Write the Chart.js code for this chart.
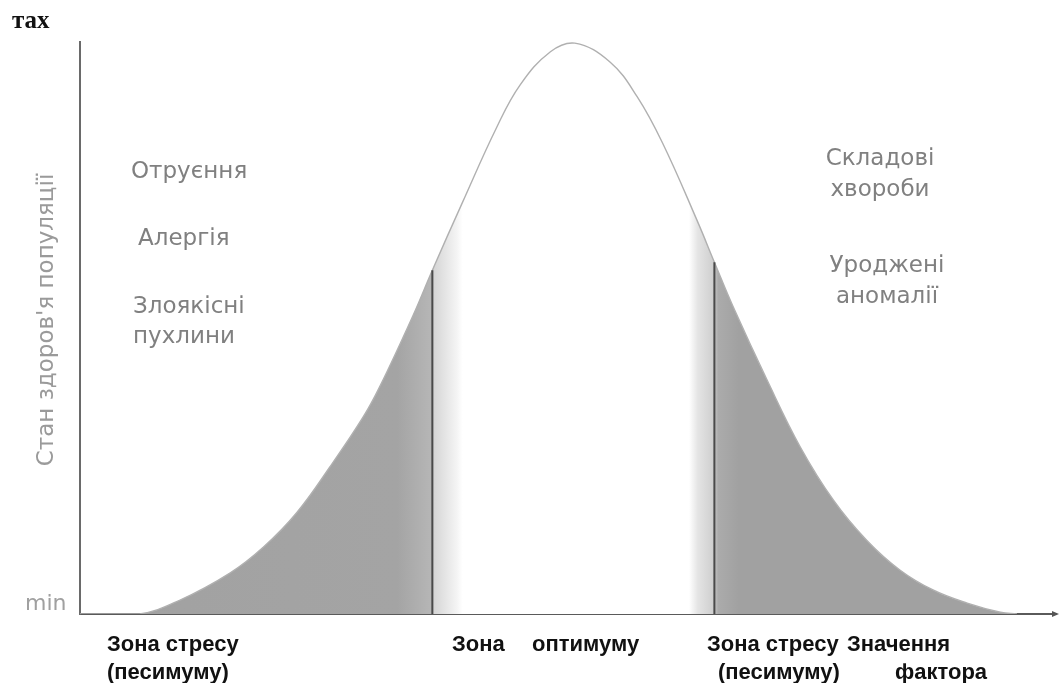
<!DOCTYPE html>
<html lang="uk">
<head>
<meta charset="UTF-8">
<title>Зони толерантності</title>
<script src="https://cdn.jsdelivr.net/npm/chart.js@4.4.0/dist/chart.umd.min.js"></script>
<style>
  html, body { margin: 0; padding: 0; background: #fff; }
</style>
</head>
<body>
<canvas id="curveChart" width="1061" height="683"></canvas>
<script>
// Значення фактора (0..100 along the axis) and стан здоров'я (0 = min, 100 = max)
var factorValues = [0, 6.1, 10.2, 15.4, 18.8, 22.2, 25.6, 29.0, 30.7, 34.1, 36.1, 39.2, 42.7, 45.1, 48.2,
                    50.7, 54.3, 57.1, 59.7, 63.2, 65.0, 66.9, 70.4, 73.8, 77.2, 80.6, 84.0, 87.4, 90.9, 94.3, 96.0];
var healthValues = [0, 0, 2.4, 7.2, 11.7, 17.7, 25.7, 34.4, 39.7, 52.1, 60.1, 72.0, 85.1, 92.5, 98.3,
                    99.8, 96.5, 90.4, 82.3, 68.9, 61.5, 53.8, 40.9, 29.2, 19.9, 12.9, 7.7, 4.2, 1.9, 0.3, 0];

// borders of the optimum zone and where they meet the curve
var zoneLimits = [36.1, 65.0];
var limitHeights = [60.1, 61.5];

var leftNotes = ['Отруєння', 'Алергія', 'Злоякісні', 'пухлини'];
var rightNotes = ['Складові', 'хвороби', 'Уроджені', 'аномалії'];
var yTitle = "Стан здоров'я популяції";
var yTickLabels = ['min', 'тах'];
var zoneLabels = ['Зона стресу', '(песимуму)', 'Зона', 'оптимуму', 'Зона стресу', '(песимуму)', 'Значення', 'фактора'];

var curvePoints = factorValues.map(function (x, i) { return { x: x, y: healthValues[i] }; });

function tailFill(context) {
    var chart = context.chart;
    if (!chart.chartArea) return 'rgba(0,0,0,0)';
    var xs = chart.scales.x;
    var x0 = chart.chartArea.left, x1 = chart.chartArea.right;
    var g = chart.ctx.createLinearGradient(x0, 0, x1, 0);
    function stop(v, c) { g.addColorStop((xs.getPixelForValue(v) - x0) / (x1 - x0), c); }
    stop(0, '#a1a1a1');
    stop(32.5, '#a4a4a4');
    stop(36.0, '#b6b6b6');
    stop(36.3, '#d6d6d6');
    stop(38.6, '#f4f4f4');
    stop(39.2, '#ffffff');
    stop(62.4, '#ffffff');
    stop(63.3, '#e4e4e4');
    stop(64.8, '#d0d0d0');
    stop(65.4, '#ababab');
    stop(67.5, '#a1a1a1');
    stop(100, '#a1a1a1');
    return g;
}

var textPlugin = {
    id: 'diagramText',
    afterDraw: function (chart) {
        var ctx = chart.ctx;
        var area = chart.chartArea;
        ctx.save();

        // arrow head on the factor axis
        ctx.fillStyle = '#555';
        ctx.beginPath();
        ctx.moveTo(area.right + 3, area.bottom);
        ctx.lineTo(area.right - 4, area.bottom - 3);
        ctx.lineTo(area.right - 4, area.bottom + 3);
        ctx.closePath();
        ctx.fill();

        // min / max
        ctx.textBaseline = 'alphabetic';
        ctx.textAlign = 'left';
        ctx.fillStyle = '#a0a0a0';
        ctx.font = '22px "DejaVu Sans"';
        ctx.fillText(yTickLabels[0], 25, 610);
        ctx.fillStyle = '#111';
        ctx.font = 'bold 25px "Liberation Serif"';
        ctx.fillText(yTickLabels[1], 12, 28);

        // vertical axis title
        ctx.save();
        ctx.translate(53, 320);
        ctx.rotate(-Math.PI / 2);
        ctx.textAlign = 'center';
        ctx.fillStyle = '#9a9a9a';
        ctx.font = '23px "DejaVu Sans"';
        ctx.fillText(yTitle, 0, 0);
        ctx.restore();

        // notes in the pessimum zones
        ctx.fillStyle = '#808080';
        ctx.font = '23px "DejaVu Sans"';
        ctx.textAlign = 'left';
        ctx.fillText(leftNotes[0], 131, 178);
        ctx.fillText(leftNotes[1], 138, 245);
        ctx.fillText(leftNotes[2], 133, 313);
        ctx.fillText(leftNotes[3], 133, 343);
        ctx.textAlign = 'center';
        ctx.fillText(rightNotes[0], 880, 165);
        ctx.fillText(rightNotes[1], 880, 196);
        ctx.fillText(rightNotes[2], 887, 272);
        ctx.fillText(rightNotes[3], 887, 303);

        // zone names under the axis
        ctx.fillStyle = '#111';
        ctx.font = 'bold 22px "Liberation Sans"';
        ctx.textAlign = 'left';
        ctx.fillText(zoneLabels[0], 107, 651);
        ctx.fillText(zoneLabels[1], 107, 679);
        ctx.fillText(zoneLabels[2], 452, 651);
        ctx.fillText(zoneLabels[3], 532, 651);
        ctx.fillText(zoneLabels[4], 707, 651);
        ctx.fillText(zoneLabels[5], 718, 679);
        ctx.fillText(zoneLabels[6], 847, 651);
        ctx.fillText(zoneLabels[7], 895, 679);

        ctx.restore();
    }
};

new Chart(document.getElementById('curveChart'), {
    type: 'scatter',
    data: {
        datasets: [
            {
                label: 'curve',
                data: curvePoints,
                order: 2,
                showLine: true,
                borderColor: '#b0b0b0',
                borderWidth: 1.4,
                backgroundColor: tailFill,
                fill: 'origin',
                pointRadius: 0,
                tension: 0.4
            },
            {
                label: 'left limit',
                data: [{ x: zoneLimits[0], y: 0 }, { x: zoneLimits[0], y: limitHeights[0] }],
                order: 1,
                showLine: true,
                borderColor: '#4a4a4a',
                borderWidth: 2,
                pointRadius: 0,
                fill: false
            },
            {
                label: 'right limit',
                data: [{ x: zoneLimits[1], y: 0 }, { x: zoneLimits[1], y: limitHeights[1] }],
                order: 1,
                showLine: true,
                borderColor: '#4a4a4a',
                borderWidth: 2,
                pointRadius: 0,
                fill: false
            }
        ]
    },
    options: {
        responsive: false,
        animation: false,
        events: [],
        layout: { padding: { left: 80, right: 5, top: 42, bottom: 69 } },
        plugins: {
            legend: { display: false },
            tooltip: { enabled: false }
        },
        scales: {
            x: {
                type: 'linear',
                min: 0,
                max: 100,
                grid: { display: false },
                ticks: { display: false },
                border: { display: true, color: '#5a5a5a', width: 2 },
                afterFit: function (s) { s.height = 0; }
            },
            y: {
                min: 0,
                max: 100,
                grid: { display: false },
                ticks: { display: false },
                border: { display: true, color: '#6a6a6a', width: 2 },
                afterFit: function (s) { s.width = 0; }
            }
        }
    },
    plugins: [textPlugin]
});
</script>
</body>
</html>
